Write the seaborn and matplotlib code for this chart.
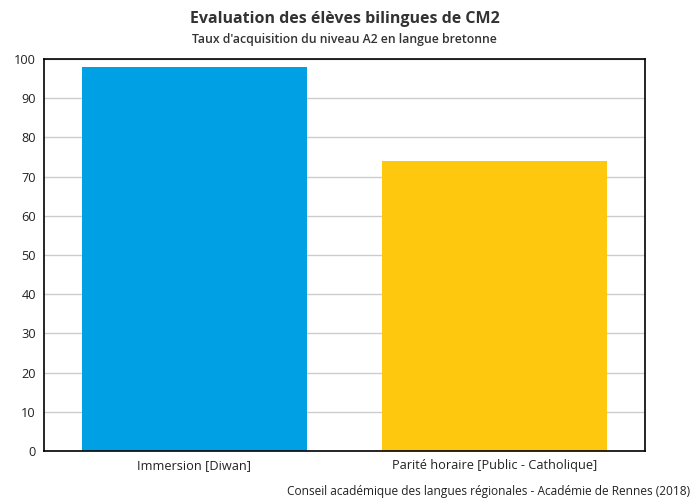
import pandas as pd
import matplotlib.pyplot as plt
import seaborn as sns

# Données
categories = ["Immersion [Diwan]", "Parité horaire [Public - Catholique]"]
taux = [98, 74]
couleurs = ["#00A0E4", "#FEC80F"]

df = pd.DataFrame({"Filiere": categories, "Taux": taux})

sns.set_style("white")
plt.rcParams["font.family"] = ["Open Sans", "DejaVu Sans"]

fig = plt.figure(figsize=(7, 5), dpi=100)
ax = fig.add_axes([0.063, 0.098, 0.858, 0.784])

sns.barplot(data=df, x="Filiere", y="Taux", hue="Filiere", palette=couleurs,
            width=0.75, saturation=1, legend=False, linewidth=0, ax=ax, zorder=2)

ax.set_ylim(0, 100)
ax.set_xlim(-0.5, 1.5)
ax.set_yticks(range(0, 101, 10))
ax.yaxis.grid(True, color="#cccccc", linewidth=1, zorder=0)
ax.set_axisbelow(True)
ax.set_xlabel("")
ax.set_ylabel("")
ax.tick_params(axis="both", length=0, labelsize=9.2, colors="#222222", pad=6)
for s in ax.spines.values():
    s.set_color("black")
    s.set_linewidth(1.2)

# titres centrés sur la zone du graphique
fig.text(0.492, 0.962, "Evaluation des élèves bilingues de CM2", ha="center", va="center",
         fontsize=11.5, fontweight="bold", color="#333333")
fig.text(0.492, 0.92, "Taux d'acquisition du niveau A2 en langue bretonne", ha="center",
         va="center", fontsize=8.8, fontweight="semibold", color="#333333")
fig.text(0.986, 0.016, "Conseil académique des langues régionales - Académie de Rennes (2018)",
         ha="right", va="center", fontsize=8.6, color="#222222")

plt.savefig("out.png", dpi=100)
